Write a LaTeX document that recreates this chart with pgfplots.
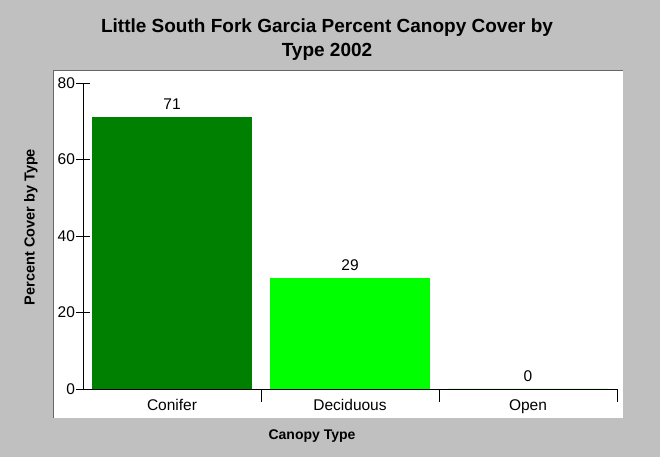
\documentclass[border=0pt]{standalone}
\usepackage{pgfplots}
\pgfplotsset{compat=1.18}
\usepackage{fontspec}
\setmainfont{Liberation Sans}
\definecolor{bggray}{HTML}{C0C0C0}
\definecolor{dgreen}{HTML}{008000}
\definecolor{lgreen}{HTML}{00FF00}
\begin{document}
\begin{tikzpicture}[x=1bp,y=1bp]
\useasboundingbox (0,0) rectangle (660,457);
\fill[bggray] (0,0) rectangle (660,457);
\fill[white] (53,39) rectangle (623,387);
\draw[gray!80!black] (53.5,39) -- (53.5,386.5) -- (623,386.5);
\node[font=\bfseries\fontsize{19bp}{22bp}\selectfont, anchor=base] at (327,424) {Little South Fork Garcia Percent Canopy Cover by};
\node[font=\bfseries\fontsize{19bp}{22bp}\selectfont, anchor=base] at (327,400) {Type 2002};
\node[font=\bfseries\fontsize{14bp}{16bp}\selectfont] at (312,21) {Canopy Type};
\node[font=\bfseries\fontsize{14.5bp}{16bp}\selectfont, rotate=90] at (31,230) {Percent Cover by Type};
\begin{axis}[
  at={(83bp,68bp)}, anchor=south west,
  scale only axis, width=534bp, height=306bp,
  xmin=-0.5, xmax=2.5, ymin=0, ymax=80,
  axis lines*=left,
  axis line style={-, black, line width=0.8pt},
  ytick={0,20,40,60,80},
  xtick={0.5,1.5,2.5}, xticklabels={},
  extra x ticks={0,1,2}, extra x tick labels={Conifer,Deciduous,Open},
  extra x tick style={major tick length=0pt, xticklabel style={yshift=-7bp}},
  tick align=center,
  major tick length=13bp,
  tick style={black, line width=0.8pt},
  /pgf/number format/assume math mode=true,
  tick label style={font=\fontsize{15.5bp}{17bp}\selectfont},
  yticklabel style={xshift=2bp},
  ybar, bar width=0.9, bar shift=0pt,
  nodes near coords,
  every node near coord/.append style={font=\fontsize{15.5bp}{17bp}\selectfont, black, yshift=4bp},
  clip=false,
]
\addplot[fill=dgreen, draw=none] coordinates {(0,71)};
\addplot[fill=lgreen, draw=none] coordinates {(1,29)};
\addplot[fill=lgreen, draw=none] coordinates {(2,0)};
\end{axis}
\end{tikzpicture}
\end{document}
